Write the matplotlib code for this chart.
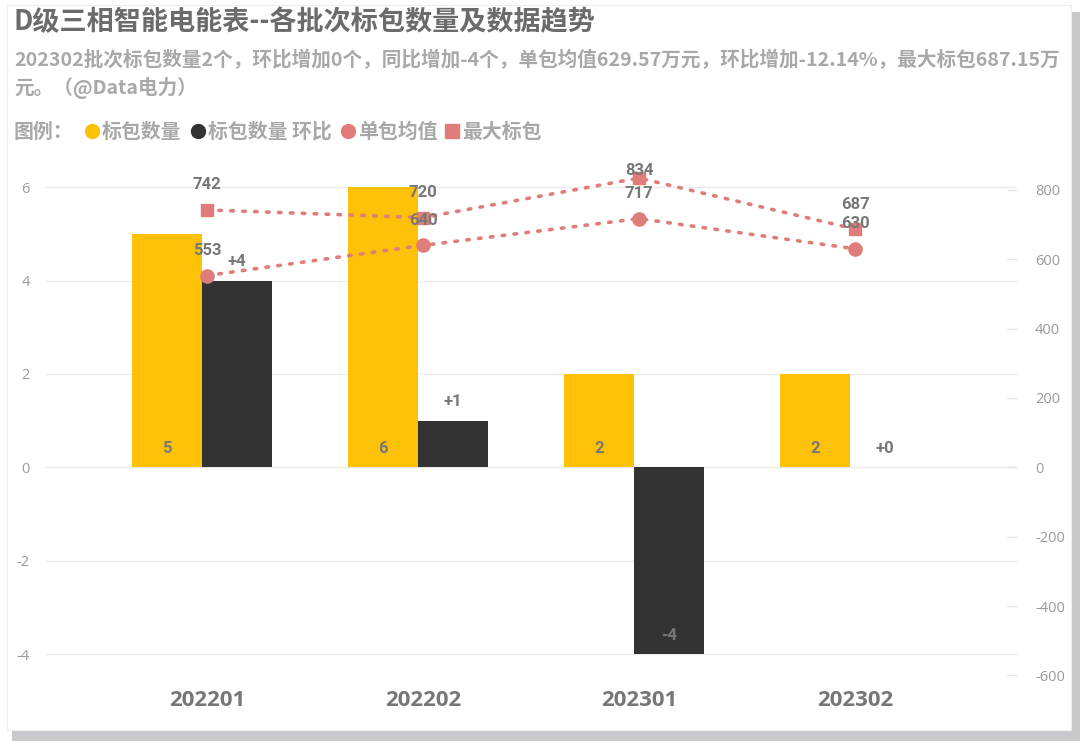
import matplotlib
matplotlib.use("Agg")
import matplotlib.pyplot as plt
from matplotlib.patches import Rectangle
from matplotlib.lines import Line2D
import numpy as np

plt.rcParams['font.family'] = ['Noto Sans CJK SC', 'DejaVu Sans']
plt.rcParams['axes.unicode_minus'] = False

# data
batches = ['202201', '202202', '202301', '202302']
bid_count = [5, 6, 2, 2]          # 标包数量
count_mom = [4, 1, -4, 0]         # 标包数量 环比
avg_value = [553, 640, 717, 630]  # 单包均值
max_bid = [742, 720, 834, 687]    # 最大标包

title = 'D级三相智能电能表--各批次标包数量及数据趋势'
sub1 = '202302批次标包数量2个，环比增加0个，同比增加-4个，单包均值629.57万元，环比增加-12.14%，最大标包687.15万'
sub2 = '元。（@Data电力）'

YELLOW = '#FDC107'
DARK = '#333333'
RED = '#E07C7A'
LBL = '#777777'
TICK = '#9a9a9a'
SUB = '#a8a8a8'

W, H = 1080, 741
fig = plt.figure(figsize=(W / 100, H / 100), dpi=100, facecolor='white')

# card with a shadow
fig.patches.append(Rectangle((12 / W, 0), 1 - 12 / W, 1 - 12 / H, transform=fig.transFigure,
                             facecolor='#c6c8cc', edgecolor='none', zorder=-10))
fig.patches.append(Rectangle((7 / W, 11 / H), (1071 - 7) / W, 725 / H, transform=fig.transFigure,
                             facecolor='white', edgecolor='#eeeeee', lw=0.8, zorder=-9))

fig.text(14 / W, 1 - 22 / H, title, fontsize=19.5, fontweight='bold', color='#6b6b6b', va='center')
fig.text(14 / W, 1 - 60 / H, sub1, fontsize=14.1, fontweight='bold', color=SUB, va='center')
fig.text(14 / W, 1 - 88 / H, sub2, fontsize=14.1, fontweight='bold', color=SUB, va='center')

# legend, drawn by hand in one row
ly = 1 - 131 / H
fig.text(14 / W, ly, '图例：', fontsize=14.3, fontweight='bold', color=SUB, va='center')
leg = [('o', YELLOW, 92, '标包数量'), ('o', DARK, 198, '标包数量 环比'),
       ('o', RED, 348, '单包均值'), ('s', RED, 452, '最大标包')]
for mk, col, px, txt in leg:
    fig.add_artist(Line2D([px / W], [ly], marker=mk, markersize=10 if mk == 'o' else 9.5,
                          color=col, lw=0, transform=fig.transFigure))
    fig.text((px + 10) / W, ly, txt, fontsize=14.3, fontweight='bold', color=SUB, va='center')

ax = fig.add_axes([45 / W, 1 - 680 / H, (1017 - 45) / W, 520 / H])
ax2 = ax.twinx()

x = np.arange(len(batches))
bw = 0.324
xb1 = x - 0.023 - bw / 2
xb2 = x - 0.023 + bw / 2
ax.bar(xb1, bid_count, bw, color=YELLOW, zorder=2)
ax.bar(xb2, count_mom, bw, color=DARK, zorder=2)

for xi, v in zip(xb1, bid_count):
    ax.text(xi, 0.41, str(v), ha='center', va='center', fontsize=12, fontweight='bold',
            color=LBL, family='Roboto', zorder=3)
for xi, v in zip(xb2, count_mom):
    s = '%+d' % v if v != 0 else '+0'
    ax.text(xi, v + 0.41, s, ha='center', va='center', fontsize=12, fontweight='bold',
            color=LBL, family='Roboto', zorder=3)

ax.set_xlim(-0.75, 3.75)
ax.set_ylim(-4.55, 6.58)
ax.set_yticks([-4, -2, 0, 2, 4, 6])
ax.yaxis.grid(True, color='#ebebeb', lw=1)
ax.set_axisbelow(True)
ax.tick_params(axis='y', length=0, pad=11, labelcolor=TICK, labelsize=10.5)
ax.set_xticks(x)
ax.set_xticklabels(batches, fontsize=16, fontweight='bold', color=LBL, family='Open Sans')
ax.tick_params(axis='x', length=0, pad=7)
for t in ax.get_yticklabels():
    t.set_family('Open Sans')

# lines on the right axis
dots = (0, (0.7, 2.6))
ax2.plot(x, max_bid, color=RED, lw=2.6, ls=dots, dash_capstyle='round',
         marker='s', markersize=8.5, zorder=4)
ax2.plot(x, avg_value, color=RED, lw=2.6, ls=dots, dash_capstyle='round',
         marker='o', markersize=9.5, zorder=4)
for xi, v in zip(x, max_bid):
    ax2.text(xi, min(v + 72, 857), str(v), ha='center', va='center', fontsize=12,
             fontweight='bold', color=LBL, family='Roboto', zorder=5)
for xi, v in zip(x, avg_value):
    ax2.text(xi, min(v + 72, 857), str(v), ha='center', va='center', fontsize=12,
             fontweight='bold', color=LBL, family='Roboto', zorder=5)

ax2.set_ylim(-613, 886)
ax2.set_yticks(range(-600, 801, 200))
ax2.tick_params(axis='y', direction='in', length=7, width=1, color='#e2e2e2', pad=13,
                labelcolor=TICK, labelsize=10.5)
for t in ax2.get_yticklabels():
    t.set_family('Open Sans')

for a in (ax, ax2):
    for sp in a.spines.values():
        sp.set_visible(False)
    a.patch.set_visible(False)

fig.savefig('out.png', dpi=100, facecolor=fig.get_facecolor())
